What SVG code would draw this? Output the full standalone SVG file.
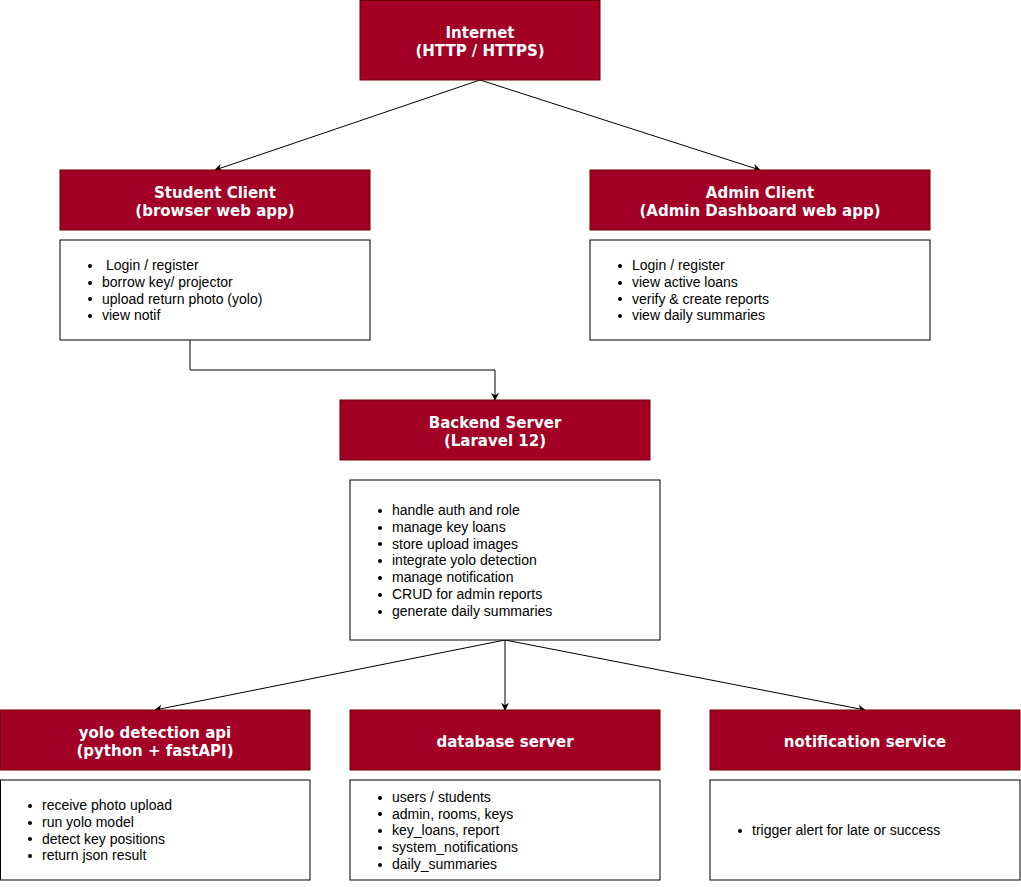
<svg xmlns="http://www.w3.org/2000/svg" width="1021" height="887" viewBox="0 0 1021 887">
<style>
.hd{fill:#a20025;stroke:#6f0000;stroke-width:1}
.bx{fill:#fff;stroke:#000;stroke-width:1}
.t{font-family:"DejaVu Sans",Verdana,sans-serif;font-weight:bold;font-size:15px;fill:#fff;text-anchor:middle}
.l{font-family:"Liberation Sans",Arial,sans-serif;font-size:14px;fill:#000}
.c{fill:none;stroke:#000;stroke-width:1}
</style>
<defs>
<marker id="a" viewBox="0 0 10 10" refX="9" refY="5" markerWidth="8" markerHeight="8" markerUnits="userSpaceOnUse" orient="auto">
<path d="M0,0 L10,5 L0,10 L3,5 Z" fill="#000"/>
</marker>
<circle id="b" r="2" fill="#000"/>
</defs>
<g id="connectors">
<path class="c" d="M480,80 L215,170" marker-end="url(#a)"/>
<path class="c" d="M480,80 L760,170" marker-end="url(#a)"/>
<path class="c" d="M190,340 L190,370 L495,370 L495,400" marker-end="url(#a)"/>
<path class="c" d="M505,640 L155,710" marker-end="url(#a)"/>
<path class="c" d="M505,640 L505,710" marker-end="url(#a)"/>
<path class="c" d="M505,640 L865,710" marker-end="url(#a)"/>
</g>
<g id="internet">
<rect class="hd" x="360" y="0.5" width="240" height="79.5"/>
<text class="t" x="480" y="38">Internet</text>
<text class="t" x="480" y="56">(HTTP / HTTPS)</text>
</g>
<g id="student">
<rect class="hd" x="60" y="170" width="310" height="60"/>
<text class="t" x="215" y="198">Student Client</text>
<text class="t" x="215" y="216">(browser web app)</text>
</g>
<g id="student-list">
<rect class="bx" x="60" y="240" width="310" height="100"/>
<use href="#b" x="90" y="266"/><use href="#b" x="90" y="283"/><use href="#b" x="90" y="299"/><use href="#b" x="90" y="316"/>
<text class="l" x="102" y="270"> <tspan x="106">Login / register</tspan></text>
<text class="l" x="102" y="287">borrow key/ projector</text>
<text class="l" x="102" y="304">upload return photo (yolo)</text>
<text class="l" x="102" y="320">view notif</text>
</g>
<g id="admin">
<rect class="hd" x="590" y="170" width="340" height="60"/>
<text class="t" x="760" y="198">Admin Client</text>
<text class="t" x="760" y="216">(Admin Dashboard web app)</text>
</g>
<g id="admin-list">
<rect class="bx" x="590" y="240" width="340" height="100"/>
<use href="#b" x="620" y="266"/><use href="#b" x="620" y="283"/><use href="#b" x="620" y="299"/><use href="#b" x="620" y="316"/>
<text class="l" x="632" y="270">Login / register</text>
<text class="l" x="632" y="287">view active loans</text>
<text class="l" x="632" y="304">verify &amp; create reports</text>
<text class="l" x="632" y="320">view daily summaries</text>
</g>
<g id="backend">
<rect class="hd" x="340" y="400" width="310" height="60"/>
<text class="t" x="495" y="428">Backend Server</text>
<text class="t" x="495" y="446">(Laravel 12)</text>
</g>
<g id="backend-list">
<rect class="bx" x="350" y="480" width="310" height="160"/>
<use href="#b" x="380" y="511"/><use href="#b" x="380" y="528"/><use href="#b" x="380" y="544"/><use href="#b" x="380" y="561"/><use href="#b" x="380" y="578"/><use href="#b" x="380" y="595"/><use href="#b" x="380" y="612"/>
<text class="l" x="392" y="515">handle auth and role</text>
<text class="l" x="392" y="532">manage key loans</text>
<text class="l" x="392" y="549">store upload images</text>
<text class="l" x="392" y="565">integrate yolo detection</text>
<text class="l" x="392" y="582">manage notification</text>
<text class="l" x="392" y="599">CRUD for admin reports</text>
<text class="l" x="392" y="616">generate daily summaries</text>
</g>
<g id="yolo">
<rect class="hd" x="0.5" y="710" width="309.5" height="60"/>
<text class="t" x="155" y="738">yolo detection api</text>
<text class="t" x="155" y="756">(python + fastAPI)</text>
</g>
<g id="yolo-list">
<rect class="bx" x="0.5" y="780" width="309.5" height="100"/>
<use href="#b" x="30" y="806"/><use href="#b" x="30" y="823"/><use href="#b" x="30" y="839"/><use href="#b" x="30" y="856"/>
<text class="l" x="42" y="810">receive photo upload</text>
<text class="l" x="42" y="827">run yolo model</text>
<text class="l" x="42" y="844">detect key positions</text>
<text class="l" x="42" y="860">return json result</text>
</g>
<g id="database">
<rect class="hd" x="350" y="710" width="310" height="60"/>
<text class="t" x="505" y="747">database server</text>
</g>
<g id="database-list">
<rect class="bx" x="350" y="780" width="310" height="100"/>
<use href="#b" x="380" y="798"/><use href="#b" x="380" y="814"/><use href="#b" x="380" y="831"/><use href="#b" x="380" y="848"/><use href="#b" x="380" y="865"/>
<text class="l" x="392" y="802">users / students</text>
<text class="l" x="392" y="819">admin, rooms, keys</text>
<text class="l" x="392" y="835">key_loans, report</text>
<text class="l" x="392" y="852">system_notifications</text>
<text class="l" x="392" y="869">daily_summaries</text>
</g>
<g id="notification">
<rect class="hd" x="710" y="710" width="310" height="60"/>
<text class="t" x="865" y="747">notification service</text>
</g>
<g id="notification-list">
<rect class="bx" x="710" y="780" width="310" height="100"/>
<use href="#b" x="740" y="831"/>
<text class="l" x="752" y="835">trigger alert for late or success</text>
</g>
</svg>
